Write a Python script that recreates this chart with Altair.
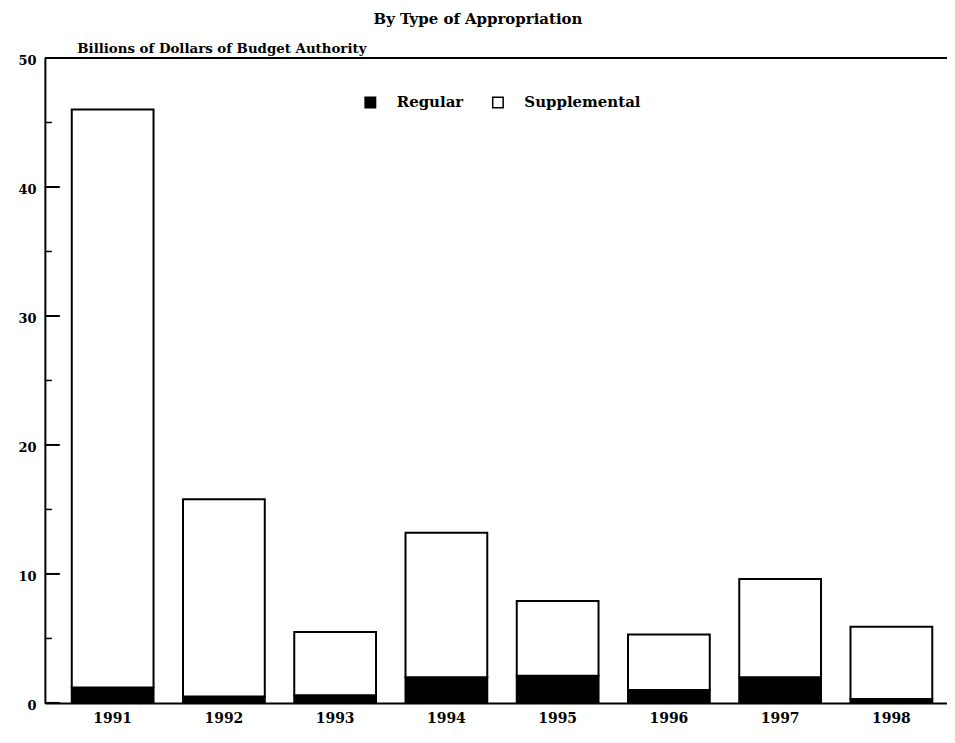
import altair as alt
import pandas as pd

years = ["1991", "1992", "1993", "1994", "1995", "1996", "1997", "1998"]
regular = [1.2, 0.5, 0.6, 2.0, 2.1, 1.0, 2.0, 0.3]
supplemental = [44.8, 15.3, 4.9, 11.2, 5.8, 4.3, 7.6, 5.6]
series = ["Regular", "Supplemental"]
major_ticks = [0, 10, 20, 30, 40, 50]
minor_ticks = [5, 15, 25, 35, 45]

rows = []
for y, r, s in zip(years, regular, supplemental):
    rows.append({"year": y, "type": "Regular", "value": r, "ord": 0})
    rows.append({"year": y, "type": "Supplemental", "value": s, "ord": 1})
df = pd.DataFrame(rows)

FONT = "DejaVu Serif"
W, H = 905, 647
YTITLE = "Billions of Dollars of Budget Authority"
yscale = alt.Scale(domain=[0, 50], nice=False, zero=True)
yaxis = alt.Axis(values=major_ticks, ticks=False, grid=False, domain=True,
                 domainColor="black", domainWidth=2, labelPadding=9, labelOffset=3,
                 labelFont=FONT, labelFontSize=13, labelFontWeight="bold",
                 labelColor="black", titleAngle=0, titleAlign="left",
                 titleBaseline="alphabetic", titleX=32, titleY=-6,
                 titleFont=FONT, titleFontSize=13.4, titleFontWeight="bold",
                 titleColor="black")

bars = alt.Chart(df).mark_bar(stroke="black", strokeWidth=2).encode(
    x=alt.X("year:N", title=None, sort=years,
            scale=alt.Scale(paddingInner=0.265, paddingOuter=0.187, align=0.646),
            axis=alt.Axis(labelAngle=0, ticks=False, domain=True, domainColor="black",
                          domainWidth=2, labelPadding=9, labelFont=FONT,
                          labelFontSize=14, labelFontWeight="bold", labelColor="black")),
    y=alt.Y("value:Q", stack="zero", scale=yscale, title=YTITLE, axis=yaxis),
    color=alt.Color("type:N", scale=alt.Scale(domain=series, range=["black", "white"]),
                    legend=alt.Legend(title=None, orient="none", legendX=319, legendY=37,
                                      direction="horizontal", symbolType="square",
                                      symbolSize=110, symbolStrokeColor="black",
                                      symbolStrokeWidth=1.5, labelFont=FONT,
                                      labelFontSize=15, labelFontWeight="bold",
                                      labelColor="black", columnPadding=26,
                                      labelOffset=19)),
    order=alt.Order("ord:Q"),
)

major = alt.Chart(pd.DataFrame({"v": major_ticks})).mark_rule(color="black", strokeWidth=2).encode(
    y=alt.Y("v:Q", scale=yscale, title=YTITLE, axis=yaxis),
    x=alt.value(0), x2=alt.value(15),
)
minor = alt.Chart(pd.DataFrame({"v": minor_ticks})).mark_rule(color="black", strokeWidth=1.5).encode(
    y=alt.Y("v:Q", scale=yscale, title=YTITLE, axis=yaxis),
    x=alt.value(0), x2=alt.value(7),
)
top = alt.Chart(pd.DataFrame({"v": [50]})).mark_rule(color="black", strokeWidth=2).encode(
    y=alt.Y("v:Q", scale=yscale, title=YTITLE, axis=yaxis),
    x=alt.value(0), x2=alt.value(W),
)

chart = alt.layer(bars, major, minor, top).properties(
    width=W, height=H,
    title=alt.TitleParams("By Type of Appropriation", font=FONT, fontSize=15,
                          fontWeight="bold", color="black", anchor="middle",
                          frame="group", dx=-18, offset=14),
    autosize=alt.AutoSizeParams(type="none"),
    padding={"left": 37, "top": 49, "right": 0, "bottom": 30},
).configure_view(stroke=None).configure(background="white")

chart.save("out.html", embed_options={"renderer": "svg", "actions": False})
